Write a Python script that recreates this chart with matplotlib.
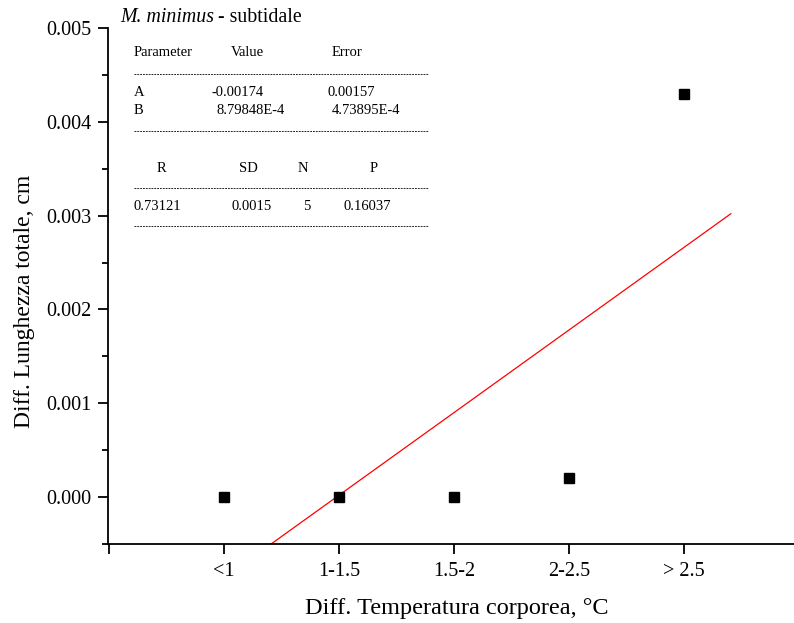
import matplotlib
matplotlib.use("Agg")
import matplotlib.pyplot as plt
import numpy as np

categories = ["<1", "1-1.5", "1.5-2", "2-2.5", "> 2.5"]
x_pos = [1, 2, 3, 4, 5]
values = [0.0, 0.0, 0.0, 0.0002, 0.0043]
fit_A = -0.00174
fit_B = 8.79848e-4
fit_x_range = [0.4, 5.41]

plt.rcParams['font.family'] = ['Liberation Serif', 'DejaVu Serif']

W, H = 794, 623
fig = plt.figure(figsize=(W / 100, H / 100), dpi=100)
ax = fig.add_axes([108 / W, 1 - 544 / H, 1 - 108 / W, (544 - 28) / H])

ax.plot(x_pos, values, linestyle='none', marker='s', color='black', markersize=7.5, clip_on=False, zorder=3)
fx = np.array(fit_x_range)
ax.plot(fx, fit_A + fit_B * fx, color='red', linewidth=0.9)

ax.set_xlim(-0.01, 5.96)
ax.set_ylim(-0.0005, 0.005)
ax.set_xticks([0] + x_pos)
ax.set_xticklabels([""] + categories)
ax.set_yticks([0.0, 0.001, 0.002, 0.003, 0.004, 0.005])
ax.set_yticklabels(["0.000", "0.001", "0.002", "0.003", "0.004", "0.005"])
ax.set_yticks(np.arange(-0.0005, 0.005, 0.001), minor=True)
ax.tick_params(axis='both', which='major', direction='out', length=7, width=1.3, labelsize=14.5, pad=5)
ax.tick_params(axis='y', which='minor', direction='out', length=4, width=1.3)
ax.tick_params(axis='x', pad=6)
for s in ['top', 'right']:
    ax.spines[s].set_visible(False)
for s in ['left', 'bottom']:
    ax.spines[s].set_linewidth(1.3)

ax.set_xlabel("Diff. Temperatura corporea, °C", fontsize=17.5, labelpad=12)
ax.set_ylabel("Diff. Lunghezza totale, cm", fontsize=17, labelpad=8)
ax.xaxis.label.set_x(0.508)
ax.yaxis.label.set_y(0.471)

def pt(x, y, s, **kw):
    fig.text(x / W, 1 - y / H, s, va='center', **kw)

pt(120, 18, "M. minimus", fontsize=14.3, style='italic')
pt(218, 18, "- subtidale", fontsize=14.3)

fs = 10.5
pt(134, 53, "Parameter", fontsize=fs)
pt(231, 53, "Value", fontsize=fs)
pt(332, 53, "Error", fontsize=fs)
pt(134, 92, "A", fontsize=fs)
pt(134, 110, "B", fontsize=fs)
pt(212, 92, "-0.00174", fontsize=fs)
pt(216, 110, "8.79848E-4", fontsize=fs)
pt(328, 92, "0.00157", fontsize=fs)
pt(332, 110, "4.73895E-4", fontsize=fs)
pt(157, 168, "R", fontsize=fs)
pt(239, 168, "SD", fontsize=fs)
pt(298, 168, "N", fontsize=fs)
pt(370, 168, "P", fontsize=fs)
pt(134, 206, "0.73121", fontsize=fs)
pt(231, 206, "0.0015", fontsize=fs)
pt(303, 206, "5", fontsize=fs)
pt(343, 206, "0.16037", fontsize=fs)
for y in [74, 131, 188, 226]:
    fig.add_artist(plt.Line2D([134 / W, 428 / W], [1 - y / H, 1 - y / H],
                              color='black', linewidth=0.6, linestyle=(0, (2.2, 1.2))))

fig.savefig("out.png", dpi=100)
